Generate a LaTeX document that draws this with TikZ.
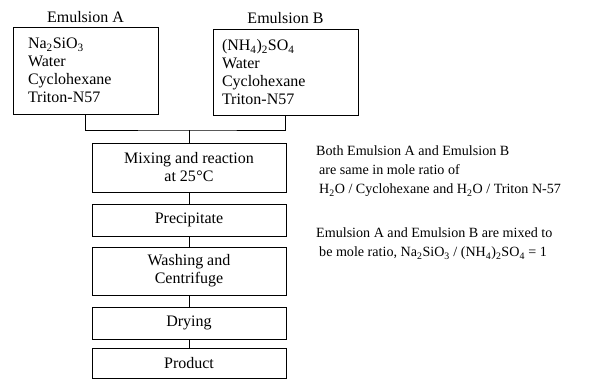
\documentclass[tikz,border=0pt]{standalone}
\usepackage{fontspec}
\setmainfont{Liberation Serif}
\begin{document}
\begin{tikzpicture}[x=1pt,y=-1pt,
  box/.style={draw,line width=0.8pt,inner sep=0pt,font=\fontsize{16}{18}\selectfont},
  stepbox/.style={box,minimum width=194pt,align=center},
  lbl/.style={font=\fontsize{16}{18}\selectfont,inner sep=1pt},
  note/.style={font=\fontsize{14.1}{19}\selectfont,align=left,inner sep=0pt,anchor=north west},
  conn/.style={line width=0.8pt}]
\useasboundingbox (0,0) rectangle (611,380);
\node[box,minimum width=145pt,minimum height=87pt,text width=115pt,align=left,inner xsep=15pt] (A) at (85.5,70.5)
  {Na\textsubscript{2}SiO\textsubscript{3}\\Water\\Cyclohexane\\Triton-N57};
\node[box,minimum width=145pt,minimum height=86pt,text width=127pt,align=left,inner xsep=9pt] (B) at (285.5,72)
  {(NH\textsubscript{4})\textsubscript{2}SO\textsubscript{4}\\Water\\Cyclohexane\\Triton-N57};
\node[lbl,anchor=south] (LA) at (85.5,24) {Emulsion A};
\node[lbl,anchor=south] (LB) at (285.5,25) {Emulsion B};
\node[stepbox,minimum height=49pt] (mix) at (189,167.5) {Mixing and reaction\\at 25{\kern0.5pt}°C};
\node[stepbox,minimum height=32pt] (prec) at (189,220) {Precipitate};
\node[stepbox,minimum height=48pt] (wash) at (189,271) {Washing and\\Centrifuge};
\node[stepbox,minimum height=32pt] (dry) at (189,323) {Drying};
\node[stepbox,minimum height=30pt] (prod) at (189,363) {Product};
\coordinate (j) at (189,130);
\draw[conn] (A.south) |- (j) -| (B.south);
\draw[conn] (j) -- (mix.north);
\draw[conn] (mix.south) -- (prec.north);
\draw[conn] (prec.south) -- (wash.north);
\draw[conn] (wash.south) -- (dry.north);
\draw[conn] (dry.south) -- (prod.north);
\node[note] (n1) at (316,146) {Both Emulsion A and Emulsion B\\
  \hspace{3pt}are same in mole ratio of\\
  \hspace{3pt}H\textsubscript{2}O / Cyclohexane and H\textsubscript{2}O / Triton N-57};
\node[note] (n2) at (316,228) {Emulsion A and Emulsion B are mixed to\\
  \hspace{3pt}be mole ratio, Na\textsubscript{2}SiO\textsubscript{3} / (NH\textsubscript{4})\textsubscript{2}SO\textsubscript{4} = 1};
\end{tikzpicture}
\end{document}
